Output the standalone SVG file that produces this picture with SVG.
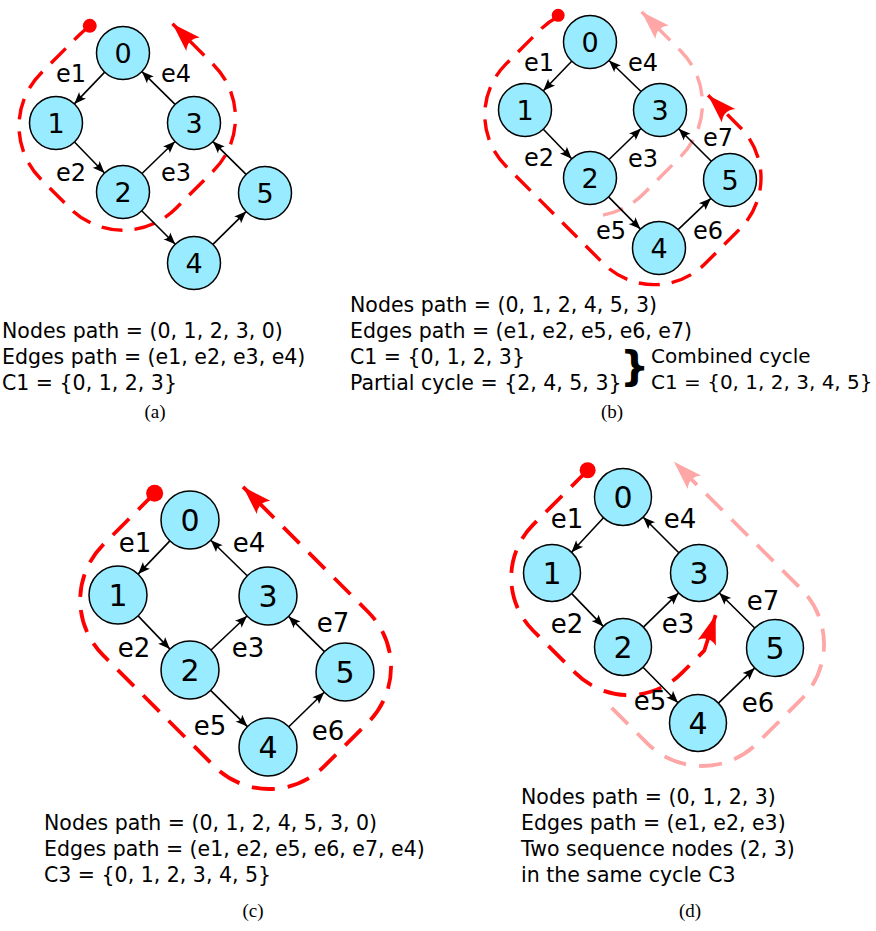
<svg xmlns="http://www.w3.org/2000/svg" width="876" height="931" viewBox="0 0 876 931">
<defs>
<style>
.n circle{fill:#99ebff;stroke:#000;stroke-width:1.5}
.n text{font-family:"DejaVu Sans",sans-serif;text-anchor:middle;fill:#000}
.s .n text{font-size:27px}
.l .n text{font-size:30px}
.e line{stroke:#000;stroke-width:1.6;marker-end:url(#ah)}
.lb{font-family:"DejaVu Sans",sans-serif;text-anchor:middle;fill:#000}
.s .lb{font-size:24px}
.l .lb{font-size:26px}
.loop{fill:none;stroke-width:3.4;stroke-dasharray:21 12}
.l .loop{stroke-width:3.8;stroke-dasharray:23 13}
.red{stroke:#ff0000}
.pink{stroke:#ffa6a6}
.txt{font-family:"DejaVu Sans",sans-serif;font-size:20.5px;fill:#000}
.cap{font-family:"Liberation Serif",serif;font-size:19px;text-anchor:middle;fill:#000}
</style>
<marker id="ah" viewBox="-13 -6 14 12" refX="0" refY="0" markerWidth="14" markerHeight="12" markerUnits="userSpaceOnUse" orient="auto">
<path d="M0,0 L-12,-4.8 Q-8,0 -12,4.8 Z" fill="#000"/>
</marker>
<marker id="ra" viewBox="-32 -11 33 22" refX="0" refY="0" markerWidth="33" markerHeight="22" markerUnits="userSpaceOnUse" orient="auto">
<path d="M0,0 L-29,-9.5 Q-21,0 -29,9.5 Z" fill="#ff0000"/>
</marker>
<marker id="pa" viewBox="-32 -11 33 22" refX="0" refY="0" markerWidth="33" markerHeight="22" markerUnits="userSpaceOnUse" orient="auto">
<path d="M0,0 L-29,-9.5 Q-21,0 -29,9.5 Z" fill="#ffa6a6"/>
</marker>
</defs>
<rect width="876" height="931" fill="#fff"/>

<!-- Panel (a) -->
<g id="panel-a" class="s">
<g id="a-loops" transform="translate(123,192) rotate(45)">
<path class="loop red" marker-end="url(#ra)" d="M-140.5,-94 A75,75 0 0 0 -142,-79 L-142,-26 A75,75 0 0 0 -67,49 L-26,49 A75,75 0 0 0 49,-26 L49,-79 A75,75 0 0 0 -26,-154 L-84,-154"/>
<circle cx="-141" cy="-94" r="7" fill="#ff0000"/>
</g>
<g id="a-edges" class="e">
<line x1="104.7" y1="72.1" x2="74.3" y2="103.9"/>
<line x1="74.5" y1="142" x2="104.5" y2="173"/>
<line x1="142" y1="173.5" x2="175" y2="141.5"/>
<line x1="175.1" y1="104.4" x2="141.9" y2="71.6"/>
<line x1="141.7" y1="210.7" x2="175.3" y2="244.3"/>
<line x1="212.9" y1="244.4" x2="246.1" y2="211.6"/>
<line x1="246.1" y1="174.4" x2="212.9" y2="141.6"/>
</g>
<g id="a-labels">
<text class="lb" x="71" y="81.7">e1</text>
<text class="lb" x="176" y="81.7">e4</text>
<text class="lb" x="71" y="180.7">e2</text>
<text class="lb" x="176" y="180.7">e3</text>
</g>
<g id="a-n0" class="n"><circle cx="123" cy="53" r="26.5"/><text x="123" y="62.8">0</text></g>
<g id="a-n1" class="n"><circle cx="56" cy="123" r="26.5"/><text x="56" y="132.8">1</text></g>
<g id="a-n2" class="n"><circle cx="123" cy="192" r="26.5"/><text x="123" y="201.8">2</text></g>
<g id="a-n3" class="n"><circle cx="194" cy="123" r="26.5"/><text x="194" y="132.8">3</text></g>
<g id="a-n4" class="n"><circle cx="194" cy="263" r="26.5"/><text x="194" y="272.8">4</text></g>
<g id="a-n5" class="n"><circle cx="265" cy="193" r="26.5"/><text x="265" y="202.8">5</text></g>
<g id="a-text">
<text class="txt" x="2" y="338">Nodes path = (0, 1, 2, 3, 0)</text>
<text class="txt" x="2" y="364">Edges path = (e1, e2, e3, e4)</text>
<text class="txt" x="2" y="390">C1 = {0, 1, 2, 3}</text>
<text class="cap" x="155" y="418">(a)</text>
</g>
</g>

<!-- Panel (b) -->
<g id="panel-b" class="s">
<g id="b-loops" transform="translate(590,178) rotate(45)">
<path class="loop pink" marker-end="url(#pa)" d="M35.4,17 A75,75 0 0 0 49,-26 L49,-79 A75,75 0 0 0 -26,-154 L-81,-154"/>
<path class="loop red" marker-end="url(#ra)" d="M-136.6,-91.9 A72,72 0 0 0 -140,-70 L-140,-21 A72,72 0 0 0 -68,51 L68,51 A72,72 0 0 0 142,-21 L142,-70 A72,72 0 0 0 68,-142 L25,-142"/>
<circle cx="-137.5" cy="-92.5" r="6.5" fill="#ff0000"/>
</g>
<g id="b-edges" class="e">
<line x1="571.7" y1="61.2" x2="543.3" y2="90.8"/>
<line x1="543.3" y1="129.2" x2="571.7" y2="158.8"/>
<line x1="609" y1="159.5" x2="641" y2="128.5"/>
<line x1="641" y1="91.5" x2="609" y2="60.5"/>
<line x1="608.6" y1="196.9" x2="640.4" y2="229.1"/>
<line x1="678.1" y1="229.7" x2="710.9" y2="198.3"/>
<line x1="711.3" y1="161.3" x2="678.7" y2="128.7"/>
</g>
<g id="b-labels">
<text class="lb" x="539" y="70.7">e1</text>
<text class="lb" x="643" y="70.7">e4</text>
<text class="lb" x="539" y="165.7">e2</text>
<text class="lb" x="643" y="166.7">e3</text>
<text class="lb" x="718" y="145.7">e7</text>
<text class="lb" x="611" y="238.7">e5</text>
<text class="lb" x="708" y="238.7">e6</text>
</g>
<g id="b-n0" class="n"><circle cx="590" cy="42" r="26.5"/><text x="590" y="51.8">0</text></g>
<g id="b-n1" class="n"><circle cx="525" cy="110" r="26.5"/><text x="525" y="119.8">1</text></g>
<g id="b-n2" class="n"><circle cx="590" cy="178" r="26.5"/><text x="590" y="187.8">2</text></g>
<g id="b-n3" class="n"><circle cx="660" cy="110" r="26.5"/><text x="660" y="119.8">3</text></g>
<g id="b-n4" class="n"><circle cx="659" cy="248" r="26.5"/><text x="659" y="257.8">4</text></g>
<g id="b-n5" class="n"><circle cx="730" cy="180" r="26.5"/><text x="730" y="189.8">5</text></g>
<g id="b-text">
<text class="txt" x="350" y="312">Nodes path = (0, 1, 2, 4, 5, 3)</text>
<text class="txt" x="350" y="338">Edges path = (e1, e2, e5, e6, e7)</text>
<text class="txt" x="350" y="364">C1 = {0, 1, 2, 3}</text>
<text class="txt" x="350" y="390">Partial cycle = {2, 4, 5, 3}</text>
<text x="620" y="380" font-family="DejaVu Sans, sans-serif" font-size="41" font-weight="bold" fill="#000">}</text>
<text class="txt" x="651" y="363" style="font-size:20px">Combined cycle</text>
<text class="txt" x="651" y="389" style="font-size:20px">C1 = {0, 1, 2, 3, 4, 5}</text>
<text class="cap" x="612" y="418">(b)</text>
</g>
</g>

<!-- Panel (c) -->
<g id="panel-c" class="l">
<g id="c-loops" transform="translate(190,670) rotate(45)">
<path class="loop red" marker-end="url(#ra)" d="M-149.2,-99.9 A78,78 0 0 0 -150,-89 L-150,-27 A78,78 0 0 0 -72,51 L85,51 A78,78 0 0 0 163,-27 L163,-89 A78,78 0 0 0 85,-167 L-92,-167"/>
<circle cx="-150" cy="-100" r="8.5" fill="#ff0000"/>
</g>
<g id="c-edges" class="e">
<line x1="169.9" y1="540.9" x2="138.1" y2="574.1"/>
<line x1="138.1" y1="615.9" x2="169.9" y2="649.1"/>
<line x1="211" y1="650" x2="247" y2="616"/>
<line x1="247.2" y1="575.8" x2="210.8" y2="540.2"/>
<line x1="210.6" y1="690.4" x2="247.4" y2="726.6"/>
<line x1="288.8" y1="726.8" x2="324.2" y2="692.2"/>
<line x1="324.4" y1="651.6" x2="288.6" y2="616.4"/>
</g>
<g id="c-labels">
<text class="lb" x="135" y="551.5">e1</text>
<text class="lb" x="249" y="551.5">e4</text>
<text class="lb" x="134" y="656.5">e2</text>
<text class="lb" x="248" y="656.5">e3</text>
<text class="lb" x="333" y="631.5">e7</text>
<text class="lb" x="210" y="734.5">e5</text>
<text class="lb" x="328" y="739.5">e6</text>
</g>
<g id="c-n0" class="n"><circle cx="190" cy="520" r="29"/><text x="190" y="530.9">0</text></g>
<g id="c-n1" class="n"><circle cx="118" cy="595" r="29"/><text x="118" y="605.9">1</text></g>
<g id="c-n2" class="n"><circle cx="190" cy="670" r="29"/><text x="190" y="680.9">2</text></g>
<g id="c-n3" class="n"><circle cx="268" cy="596" r="29"/><text x="268" y="606.9">3</text></g>
<g id="c-n4" class="n"><circle cx="268" cy="747" r="29"/><text x="268" y="757.9">4</text></g>
<g id="c-n5" class="n"><circle cx="345" cy="672" r="29"/><text x="345" y="682.9">5</text></g>
<g id="c-text">
<text class="txt" x="44" y="830">Nodes path = (0, 1, 2, 4, 5, 3, 0)</text>
<text class="txt" x="44" y="856">Edges path = (e1, e2, e5, e6, e7, e4)</text>
<text class="txt" x="44" y="882">C3 = {0, 1, 2, 3, 4, 5}</text>
<text class="cap" x="253" y="917">(c)</text>
</g>
</g>

<!-- Panel (d) -->
<g id="panel-d" class="l">
<g id="d-loops" transform="translate(623,647) rotate(45)">
<path class="loop pink" marker-end="url(#pa)" d="M35,51 L85,51 A78,78 0 0 0 163,-27 L163,-89 A78,78 0 0 0 85,-167 L-95,-167"/>
<path class="loop red" marker-end="url(#ra)" d="M-149.2,-99.9 A78,78 0 0 0 -150,-89 L-150,-23 A75,75 0 0 0 -75,52 L-15,52 A75,75 0 0 0 60,-23 L60,-55 L43,-88"/>
<circle cx="-150" cy="-100" r="8" fill="#ff0000"/>
</g>
<g id="d-edges" class="e">
<line x1="603.5" y1="517.8" x2="571.5" y2="552.2"/>
<line x1="571.7" y1="593.6" x2="603.3" y2="626.4"/>
<line x1="643.4" y1="627.1" x2="678.6" y2="592.9"/>
<line x1="678.8" y1="552.8" x2="643.2" y2="517.2"/>
<line x1="643" y1="667.3" x2="678" y2="702.7"/>
<line x1="718.4" y1="703.1" x2="754.6" y2="668.1"/>
<line x1="754.7" y1="628" x2="719.3" y2="593"/>
</g>
<g id="d-labels">
<text class="lb" x="567" y="527.5">e1</text>
<text class="lb" x="680" y="527.5">e4</text>
<text class="lb" x="567" y="632.5">e2</text>
<text class="lb" x="678" y="632.5">e3</text>
<text class="lb" x="763" y="609.5">e7</text>
<text class="lb" x="650" y="709.5">e5</text>
<text class="lb" x="758" y="711.5">e6</text>
</g>
<g id="d-n0" class="n"><circle cx="623" cy="497" r="28.5"/><text x="623" y="507.9">0</text></g>
<g id="d-n1" class="n"><circle cx="552" cy="573" r="28.5"/><text x="552" y="583.9">1</text></g>
<g id="d-n2" class="n"><circle cx="623" cy="647" r="28.5"/><text x="623" y="657.9">2</text></g>
<g id="d-n3" class="n"><circle cx="699" cy="573" r="28.5"/><text x="699" y="583.9">3</text></g>
<g id="d-n4" class="n"><circle cx="698" cy="723" r="28.5"/><text x="698" y="733.9">4</text></g>
<g id="d-n5" class="n"><circle cx="775" cy="648" r="28.5"/><text x="775" y="658.9">5</text></g>
<g id="d-text">
<text class="txt" x="521" y="804">Nodes path = (0, 1, 2, 3)</text>
<text class="txt" x="521" y="830">Edges path = (e1, e2, e3)</text>
<text class="txt" x="521" y="856">Two sequence nodes (2, 3)</text>
<text class="txt" x="521" y="882">in the same cycle C3</text>
<text class="cap" x="690" y="917">(d)</text>
</g>
</g>
</svg>
